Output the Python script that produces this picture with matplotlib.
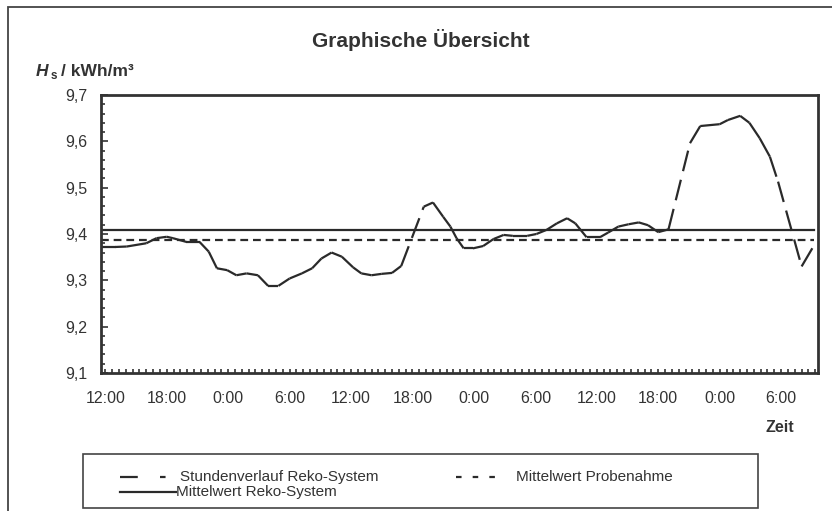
import numpy as np
import matplotlib
matplotlib.use("Agg")
import matplotlib.pyplot as plt
from matplotlib.collections import LineCollection
from matplotlib.lines import Line2D
from matplotlib.patches import Rectangle
from matplotlib.ticker import FuncFormatter, MultipleLocator

plt.rcParams['font.family'] = ['Liberation Sans', 'DejaVu Sans']

# hours after 12:00 on the first day
hours = [-0.4, 1.0, 2.1, 4.0, 5.0, 6.0, 6.6, 7.9, 9.2, 10.1, 10.9, 11.9, 12.8, 13.8,
         14.9, 15.9, 16.9, 18.0, 19.2, 20.2, 21.1, 22.1, 23.1, 24.2, 25.0, 26.0,
         27.0, 28.0, 28.9, 31.1, 32.0, 33.0, 33.7, 34.3, 35.0, 35.9, 36.9, 37.9,
         38.9, 39.8, 41.2, 42.1, 43.1, 44.1, 45.1, 45.9, 47.0, 48.3, 49.1, 50.1,
         51.1, 52.1, 53.0, 54.0, 55.0, 57.1, 58.1, 60.0, 60.8, 62.0, 62.9, 63.9,
         64.9, 65.7, 68.0, 69.2]
hs = [9.372, 9.372, 9.373, 9.380, 9.391, 9.394, 9.391, 9.383, 9.383, 9.362, 9.326,
      9.322, 9.311, 9.315, 9.311, 9.288, 9.288, 9.304, 9.315, 9.326, 9.347,
      9.360, 9.351, 9.328, 9.315, 9.311, 9.314, 9.316, 9.331, 9.459, 9.468,
      9.437, 9.416, 9.391, 9.369, 9.369, 9.374, 9.389, 9.398, 9.396, 9.396,
      9.400, 9.409, 9.423, 9.434, 9.423, 9.393, 9.393, 9.403, 9.416, 9.421,
      9.425, 9.419, 9.404, 9.410, 9.596, 9.633, 9.637, 9.646, 9.655, 9.640,
      9.607, 9.567, 9.513, 9.330, 9.375]
mittel_reko = 9.408
mittel_probe = 9.388
tick_hours = list(range(0, 67, 6))
tick_labels = ['12:00', '18:00', '0:00', '6:00'] * 3

W, H = 832, 511
fig = plt.figure(figsize=(W / 100, H / 100), dpi=100)
ink = '#2a2a2a'

def fx(px):
    return px / W

def fy(py):
    return 1 - py / H

# outer frame (runs off the bottom and right of the picture)
fig.add_artist(Rectangle((fx(8), fy(520)), fx(840) - fx(8), fy(7) - fy(520),
                         transform=fig.transFigure, fill=False, ec='#444444', lw=1.3))

ax = fig.add_axes([fx(101), fy(373), fx(818) - fx(101), fy(95) - fy(373)])
ax.set_xlim(-0.42, 69.6)
ax.set_ylim(9.1, 9.7)

# curve: each segment dashed on its own, so short segments look solid
pts = np.column_stack([hours, hs])
segs = np.stack([pts[:-1], pts[1:]], axis=1)
lc = LineCollection(segs, colors=ink, linewidths=1.6, linestyles=[(0, (9.5, 4))],
                    capstyle='butt')
ax.add_collection(lc)

ax.plot([hours[0], hours[-1]], [mittel_reko, mittel_reko], color=ink, lw=1.6)
ax.plot([hours[0], hours[-1]], [mittel_probe, mittel_probe], color=ink, lw=1.6,
        dashes=(3.5, 2.2), dash_capstyle='butt')

for s in ax.spines.values():
    s.set_linewidth(2)
    s.set_color('#333333')

ax.set_xticks(tick_hours)
ax.set_xticklabels(tick_labels)
ax.xaxis.set_minor_locator(MultipleLocator(2 / 3))
ax.yaxis.set_major_locator(MultipleLocator(0.1))
ax.yaxis.set_minor_locator(MultipleLocator(0.02))
ax.yaxis.set_major_formatter(FuncFormatter(lambda v, p: f'{v:.1f}'.replace('.', ',')))
ax.tick_params(axis='x', which='both', direction='in', length=3, width=1.2,
               colors='#333333', labelsize=11.5, pad=13, labelcolor='#333333')
ax.tick_params(axis='y', which='major', direction='in', length=5, width=1.2,
               colors='#333333', labelsize=11.5, pad=10, labelcolor='#333333')
ax.tick_params(axis='y', which='minor', direction='in', length=3, width=1.2,
               colors='#333333')
ax.tick_params(top=False, right=False, which='both')

fig.text(fx(421), fy(40), 'Graphische Übersicht', ha='center', va='center',
         fontsize=15, fontweight='bold', color='#333333')
fig.text(fx(36), fy(72), 'H', ha='left', va='center', fontsize=12.5,
         fontweight='bold', style='italic', color='#333333')
fig.text(fx(51), fy(76), 's', ha='left', va='center', fontsize=8.5,
         fontweight='bold', color='#333333')
fig.text(fx(61), fy(72), '/ kWh/m³', ha='left', va='center', fontsize=12.5,
         fontweight='bold', color='#333333')
fig.text(fx(780), fy(428), 'Zeit', ha='center', va='center', fontsize=11.5,
         fontweight='bold', color='#333333')

# legend box
fig.add_artist(Rectangle((fx(83), fy(508)), fx(758) - fx(83), fy(454) - fy(508),
                         transform=fig.transFigure, fill=False, ec='#444444', lw=1.2))
fig.add_artist(Line2D([fx(120), fx(176)], [fy(477), fy(477)], color=ink, lw=1.6,
                      dashes=(8, 10, 2.5, 40), dash_capstyle='butt'))
fig.text(fx(180), fy(477), 'Stundenverlauf Reko-System', ha='left', va='center',
         fontsize=11, color='#333333')
fig.add_artist(Line2D([fx(456), fx(506)], [fy(477), fy(477)], color=ink, lw=1.6,
                      dashes=(2.5, 5), dash_capstyle='butt'))
fig.text(fx(516), fy(477), 'Mittelwert Probenahme', ha='left', va='center',
         fontsize=11, color='#333333')
fig.add_artist(Line2D([fx(120), fx(176)], [fy(492), fy(492)], color=ink, lw=1.6))
fig.text(fx(176), fy(492), 'Mittelwert Reko-System', ha='left', va='center',
         fontsize=11, color='#333333')

fig.savefig('out.png', dpi=100)
